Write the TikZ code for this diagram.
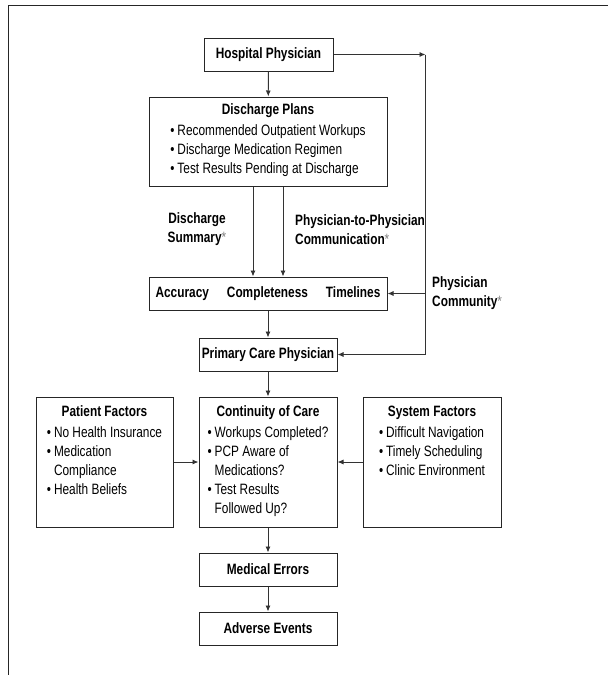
\documentclass[tikz,border=0pt]{standalone}
\usepackage{fontspec}
\setmainfont{Liberation Sans}[FakeStretch=0.79]
\usetikzlibrary{arrows.meta,positioning}

\newcommand{\fnmark}{{\normalfont\color{black!50}*}}
\newcommand{\bitems}[1]{\begin{tabular}[t]{@{}l@{\hspace{3pt}}l@{}}#1\end{tabular}}
\newcommand{\factorbox}[2]{\parbox[c][112pt][t]{132pt}{\centering\textbf{#1}\par\vspace{2pt}\bitems{#2}}}

\begin{document}
\begin{tikzpicture}[x=1pt,y=-1pt,
  every node/.style={font=\fontsize{15}{19}\selectfont},
  box/.style={draw=black!85,line width=1pt,inner sep=0pt,minimum height=33pt},
  tag/.style={font=\fontsize{15}{19}\selectfont\bfseries,inner sep=0pt},
  arr/.style={draw=black!80,line width=0.9pt,-{Latex[length=6pt,width=5pt]}}]
\useasboundingbox (0,0) rectangle (608,675);
\draw[black!85,line width=1pt] (8,675) -- (8,5) -- (608,5);

\node[box,minimum width=129pt,font=\fontsize{15}{19}\selectfont\bfseries] (hosp) at (268.5,54.5) {Hospital Physician};
\node[box,minimum width=238pt,minimum height=89pt,align=center] (plans) at (268,141.5)
  {\textbf{Discharge Plans}\\[2pt]\bitems{\textbullet & Recommended Outpatient Workups\\ \textbullet & Discharge Medication Regimen\\ \textbullet & Test Results Pending at Discharge}};
\node[box,minimum width=238pt,font=\fontsize{15}{19}\selectfont\bfseries] (quality) at (268,293.5)
  {Accuracy\hspace{18pt}Completeness\hspace{18pt}Timelines};
\node[box,minimum width=138pt,font=\fontsize{15}{19}\selectfont\bfseries] (pcp) at (268,354.5) {Primary Care Physician};
\node[box,minimum width=138pt,minimum height=130pt] (care) at (268,462)
  {\factorbox{Continuity of Care}{\textbullet & Workups Completed?\\ \textbullet & PCP Aware of\\ & Medications?\\ \textbullet & Test Results\\ & Followed Up?}};
\node[box,minimum width=137pt,minimum height=130pt] (patient) at (104.5,462)
  {\factorbox{Patient Factors}{\textbullet & No Health Insurance\\ \textbullet & Medication\\ & Compliance\\ \textbullet & Health Beliefs}};
\node[box,minimum width=138pt,minimum height=130pt] (system) at (432,462)
  {\factorbox{System Factors}{\textbullet & Difficult Navigation\\ \textbullet & Timely Scheduling\\ \textbullet & Clinic Environment}};
\node[box,minimum width=138pt,font=\fontsize{15}{19}\selectfont\bfseries] (errors) at (268,569.5) {Medical Errors};
\node[box,minimum width=138pt,font=\fontsize{15}{19}\selectfont\bfseries] (adverse) at (268,628.5) {Adverse Events};

\node[tag,align=center] (summary) at (197,229.5) {Discharge\\Summary\fnmark};
\node[tag,align=left,anchor=west] (p2p) at (295,229.5) {Physician-to-Physician\\Communication\fnmark};
\node[tag,align=left,anchor=west] (community) at (432,293) {Physician\\Community\fnmark};

\coordinate[right=92pt of hosp.east] (ctop);
\coordinate (cbot) at (ctop |- pcp.east);

\draw[arr] (hosp) -- (plans);
\draw[arr] ([xshift=-15pt]plans.south) -- ([xshift=-15pt]quality.north);
\draw[arr] ([xshift=15pt]plans.south) -- ([xshift=15pt]quality.north);
\draw[arr] (quality) -- (pcp);
\draw[arr] (pcp) -- (care);
\draw[arr] (care) -- (errors);
\draw[arr] (errors) -- (adverse);
\draw[arr] (patient) -- (care);
\draw[arr] (system) -- (care);
\draw[arr] (hosp) -- (ctop);
\draw[arr] (ctop) -- (cbot) -- (pcp);
\draw[arr] (ctop |- quality.east) -- (quality);
\end{tikzpicture}
\end{document}
